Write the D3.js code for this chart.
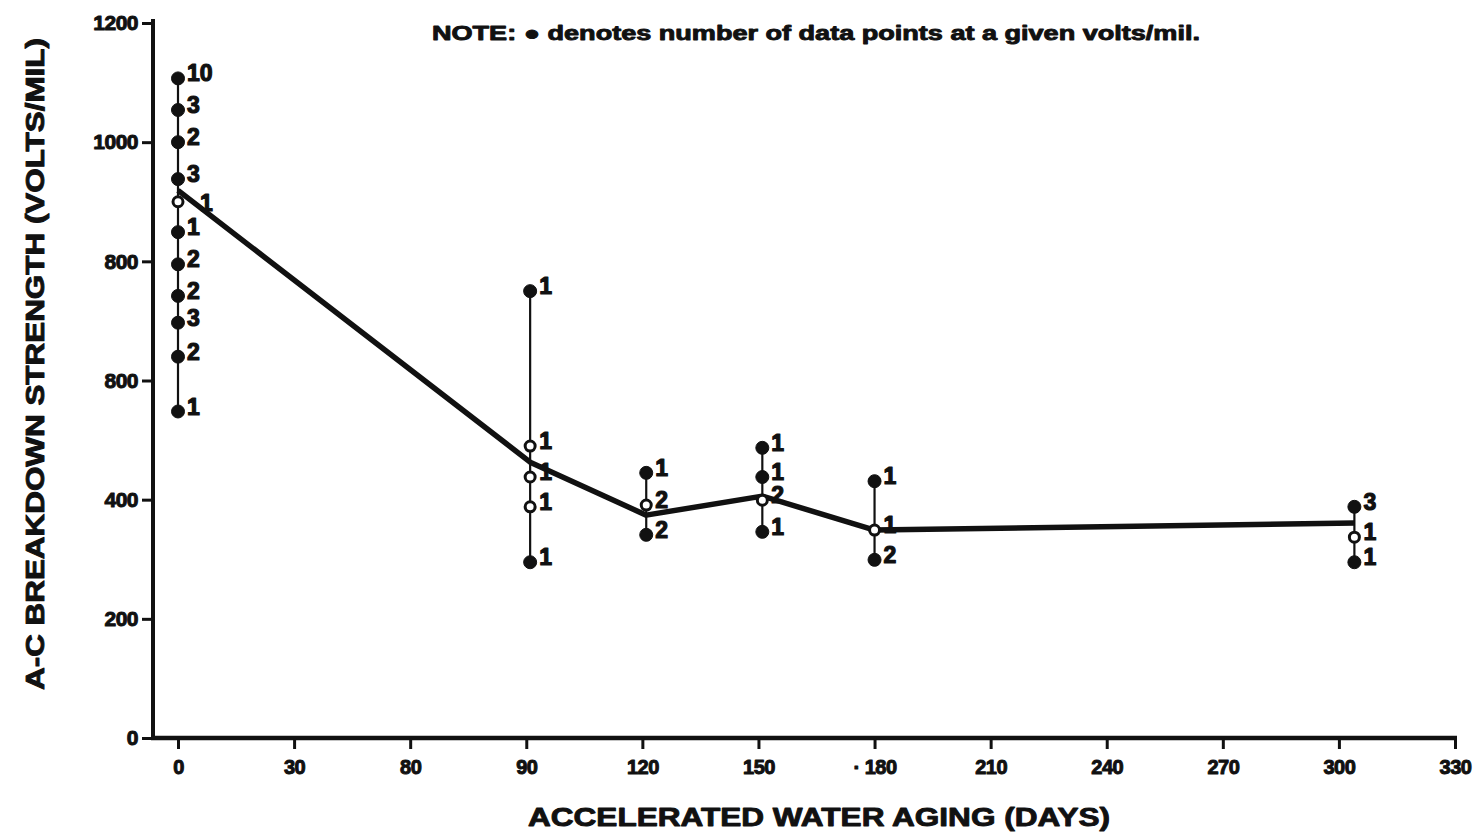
<!DOCTYPE html>
<html><head><meta charset="utf-8">
<script src="https://cdn.jsdelivr.net/npm/d3@7/dist/d3.min.js"></script>
<style>
html,body{margin:0;padding:0;background:#fff;}
svg{display:block;font-family:"Liberation Sans",Arial,sans-serif;font-weight:bold;}
</style></head>
<body>
<svg id="chart" width="1484" height="834"></svg>
<script>
// ---- data ----
const days = [0, 91, 121, 151, 180, 304];
const meanValues = [919, 463, 374, 406, 349, 361];
// individual measurements per day column: value, count, open marker
const pointDays   = [0,0,0,0,0,0,0,0,0,0,0, 91,91,91,91,91, 121,121,121, 151,151,151,151, 180,180,180, 304,304,304];
const pointValues = [1107,1054,1000,938,900,849,795,742,697,640,548, 750,490,438,388,295, 445,391,341, 487,438,399,346, 431,349,299, 388,337,295];
const pointCounts = [10,3,2,3,1,1,2,2,3,2,1, 1,1,1,1,1, 1,2,2, 1,1,2,1, 1,1,2, 3,1,1];
const pointOpen   = [0,0,0,0,1,0,0,0,0,0,0, 0,1,1,1,0, 0,1,0, 0,0,1,0, 0,1,0, 0,1,0];
const xTickValues = [0,30,60,90,120,150,180,210,240,270,300,330];
const xTickLabels = ["0","30","80","90","120","150","\u00b7 180","210","240","270","300","330"];
const yTickValues = [0,200,400,600,800,1000,1200];
const yTickLabels = ["0","200","400","800","800","1000","1200"];

// ---- scales ----
const svg = d3.select("#chart");
const x = d3.scaleLinear().domain([0,330]).range([178,1455]);
const y = d3.scaleLinear().domain([0,1200]).range([738,23]);
const axisX0 = 153, axisY0 = 738;
const ink = "#111";
const heavy = sel => sel.attr("fill",ink).attr("stroke",ink).attr("stroke-linejoin","round");

// axes lines
svg.append("line").attr("x1",axisX0).attr("x2",axisX0).attr("y1",19).attr("y2",axisY0+2)
  .attr("stroke",ink).attr("stroke-width",4);
svg.append("line").attr("x1",axisX0-2).attr("x2",x(330)+2).attr("y1",axisY0).attr("y2",axisY0)
  .attr("stroke",ink).attr("stroke-width",4.5);

// y axis ticks
const yAxis = d3.axisLeft(y).tickValues(yTickValues)
  .tickFormat((d,i)=>yTickLabels[i]).tickSize(11).tickSizeOuter(0).tickPadding(4);
const gy = svg.append("g").attr("transform",`translate(${axisX0},0)`).call(yAxis);
gy.select(".domain").remove();
gy.selectAll(".tick line").attr("stroke",ink).attr("stroke-width",3);
gy.selectAll(".tick text").attr("font-size",21).attr("font-weight","bold")
  .attr("font-family","'Liberation Sans',Arial,sans-serif").attr("letter-spacing",-0.5)
  .call(heavy).attr("stroke-width",1);

// x axis ticks
const xAxis = d3.axisBottom(x).tickValues(xTickValues)
  .tickFormat((d,i)=>xTickLabels[i]).tickSize(11).tickSizeOuter(0).tickPadding(11);
const gx = svg.append("g").attr("transform",`translate(0,${axisY0})`).call(xAxis);
gx.select(".domain").remove();
gx.selectAll(".tick line").attr("stroke",ink).attr("stroke-width",3);
gx.selectAll(".tick text").attr("font-size",20).attr("font-weight","bold")
  .attr("font-family","'Liberation Sans',Arial,sans-serif").attr("letter-spacing",-0.5)
  .call(heavy).attr("stroke-width",1);

// vertical range lines
const cols = days.map(d=>{
  const vals = pointValues.filter((v,i)=>pointDays[i]===d);
  return {day:d, min:d3.min(vals), max:d3.max(vals)};
});
svg.append("g").selectAll("line").data(cols).join("line")
  .attr("x1",d=>x(d.day)).attr("x2",d=>x(d.day))
  .attr("y1",d=>y(d.max)).attr("y2",d=>y(d.min))
  .attr("stroke",ink).attr("stroke-width",2.2);

// mean line
const line = d3.line().x((d,i)=>x(days[i])).y(d=>y(d));
svg.append("path").datum(meanValues).attr("d",line)
  .attr("fill","none").attr("stroke",ink).attr("stroke-width",5.5).attr("stroke-linejoin","round");

// points
const pts = pointValues.map((v,i)=>({day:pointDays[i], v, c:pointCounts[i], open:pointOpen[i]}));
svg.append("g").selectAll("circle").data(pts).join("circle")
  .attr("cx",d=>x(d.day)).attr("cy",d=>y(d.v))
  .attr("r",d=>d.open?5:6.5)
  .attr("fill",d=>d.open?"#fff":ink)
  .attr("stroke",ink).attr("stroke-width",d=>d.open?3:1);

// count labels (the first column's open marker label sits further right, past the mean line)
const firstColOpen = d => d.open && d.day === days[0];
svg.append("g").selectAll("text").data(pts).join("text")
  .attr("x",d=>x(d.day)+(firstColOpen(d)?22:9))
  .attr("y",d=>y(d.v)+(firstColOpen(d)?3:-3))
  .attr("dominant-baseline","middle")
  .attr("font-size",23).attr("font-weight","bold")
  .call(heavy).attr("stroke-width",1.2)
  .text(d=>d.c);

// titles
svg.append("text").attr("x",819).attr("y",826).attr("text-anchor","middle")
  .attr("font-size",25).call(heavy).attr("stroke-width",0.9)
  .attr("textLength",582).attr("lengthAdjust","spacingAndGlyphs")
  .text("ACCELERATED WATER AGING (DAYS)");
svg.append("text").attr("transform","translate(44,364) rotate(-90)").attr("text-anchor","middle")
  .attr("font-size",25).call(heavy).attr("stroke-width",0.9)
  .attr("textLength",652).attr("lengthAdjust","spacingAndGlyphs")
  .text("A-C BREAKDOWN STRENGTH (VOLTS/MIL)");
svg.append("text").attr("x",432).attr("y",40)
  .attr("font-size",20).call(heavy).attr("stroke-width",0.9)
  .attr("textLength",768).attr("lengthAdjust","spacingAndGlyphs")
  .text("NOTE:  \u25cf denotes number of data points at a given volts/mil.");
</script>
</body></html>
